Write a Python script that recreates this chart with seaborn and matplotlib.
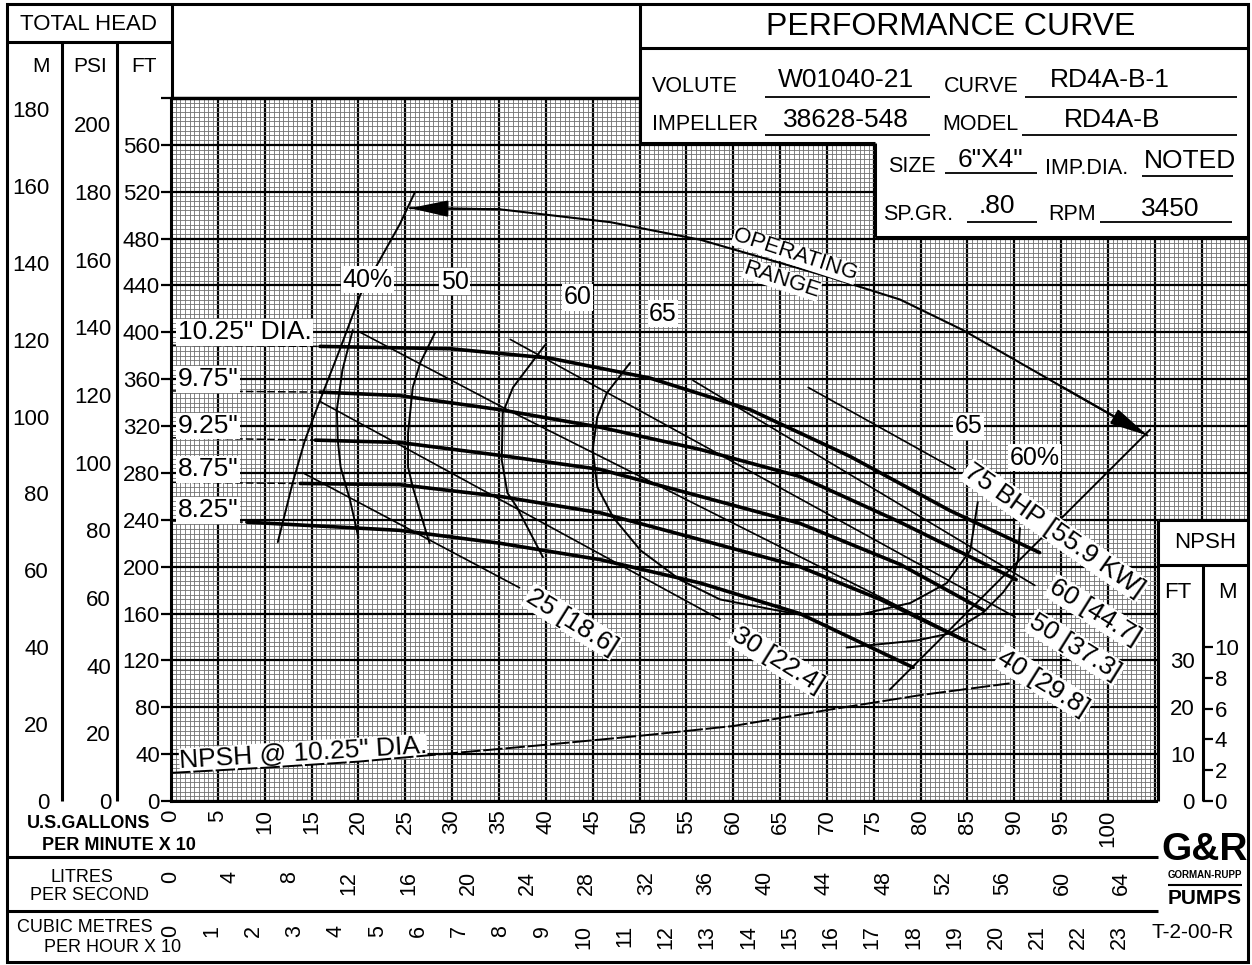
import numpy as np
import seaborn as sns
import matplotlib.pyplot as plt
from matplotlib.patches import Rectangle
from matplotlib.ticker import FuncFormatter, MultipleLocator, FixedLocator

sns.set_theme(style="white", rc={"axes.edgecolor": "black", "text.color": "black",
                                 "xtick.color": "black", "ytick.color": "black"})
plt.rcParams['font.family'] = ['Liberation Sans', 'DejaVu Sans']

# flow is US GPM x 10, head is ft
gpm_ticks = list(range(0, 101, 5))
lps_ticks = list(range(0, 65, 4))
m3h_ticks = list(range(0, 24))
ft_ticks = list(range(0, 561, 40))
m_ticks = list(range(0, 181, 20))
m_minor = list(range(10, 180, 20))
psi_ticks = list(range(0, 201, 20))
npsh_ft_ticks = [0, 10, 20, 30]
npsh_m_ticks = [0, 2, 4, 6, 8, 10]

# head / capacity curves for each impeller diameter
q_1025 = [0, 15.9, 29.8, 40.4, 51.1, 61.8, 72.5, 83.1, 92.7]
h_1025 = [389, 388, 386, 378, 361, 334, 294, 248, 212]
q_975 = [0, 15.9, 24.4, 35.1, 45.8, 56.5, 67.1, 77.8, 90.2]
h_975 = [350, 349, 346, 334, 319, 300, 277, 238, 189]
q_925 = [0, 15.4, 24.4, 35.1, 45.8, 56.5, 67.1, 77.8, 86.7]
h_925 = [310, 308, 306, 295, 283, 260, 237, 202, 163]
q_875 = [0, 13.8, 24.4, 35.1, 45.8, 56.5, 67.1, 75.7, 84.7]
h_875 = [272, 271, 270, 260, 246, 223, 200, 172, 137]
q_825 = [0, 8.1, 24.4, 35.1, 45.8, 56.5, 67.1, 79.2]
h_825 = [239, 238, 231, 220, 206, 186, 160, 114]
dia_labels = ['10.25" DIA.', '9.75"', '9.25"', '8.75"', '8.25"']
dia_label_h = [400, 360, 320, 283, 248]

# efficiency lines
q_eff40 = [11.4, 13.0, 14.3, 15.9, 18.0, 20.2, 22.3, 24.4, 26.0]
h_eff40 = [221, 272, 308, 342, 385, 432, 462, 492, 519]
q_eff45 = [19.4, 18.3, 17.7, 17.8, 18.1, 19.1, 20.0]
h_eff45 = [402, 368, 334, 308, 285, 257, 225]
q_eff50 = [28.2, 26.6, 25.8, 25.3, 25.3, 25.8, 26.6, 27.6]
h_eff50 = [400, 374, 353, 314, 285, 268, 246, 220]
q_eff60 = [39.9, 36.5, 35.4, 35.3, 35.9, 36.9, 39.7]
h_eff60 = [389, 353, 331, 291, 263, 251, 208]
q_eff65 = [49.0, 46.5, 45.5, 45.0, 45.5, 47.2, 50.1, 54.3, 58.6, 67.1, 73.5, 78.9, 82.8, 85.3, 86.1]
h_eff65 = [374, 348, 328, 300, 268, 242, 214, 189, 172, 159, 159, 169, 186, 214, 255]
q_eff60r = [90.6, 90.4, 89.8, 88.8, 86.7, 83.1, 79.6, 72.1]
h_eff60r = [233, 206, 189, 178, 161, 143, 137, 131]
q_eff60line = [76.7, 104.5]
h_eff60line = [95, 317]
eff_labels = ['40%', '50', '60', '65', '65', '60%']
eff_label_q = [21.0, 30.3, 43.4, 52.5, 85.1, 92.2]
eff_label_h = [445, 443, 430, 416, 320, 293]

# brake horsepower lines
q_bhp25 = [14.1, 37.2]
h_bhp25 = [280, 182]
q_bhp30 = [15.9, 58.6]
h_bhp30 = [341, 155]
q_bhp40 = [20.2, 35.4, 86.9]
h_bhp40 = [400, 336, 129]
q_bhp50 = [36.2, 90.1]
h_bhp50 = [394, 157]
q_bhp60 = [55.7, 92.2]
h_bhp60 = [359, 184]
q_bhp75 = [68.0, 83.7]
h_bhp75 = [353, 283]
bhp_labels = ['25 [18.6]', '30 [22.4]', '40 [29.8]', '50 [37.3]', '60 [44.7]', '75 BHP [55.9 KW]']
bhp_label_q = [42.8, 64.8, 93.1, 96.5, 98.6, 94.3]
bhp_label_h = [153, 120, 101, 131, 161, 231]

# operating range arrow
q_oper = [25.5, 35.1, 46.9, 56.5, 70.3, 77.8, 84.5, 95.2, 104.2]
h_oper = [506, 505, 494, 479, 447, 428, 402, 353, 312]

# NPSH required (ft) at 10.25" dia
q_npsh = [0, 10, 20, 30, 40, 50, 60, 70, 80, 89.5]
npsh_ft = [6.0, 7.1, 8.4, 10.2, 12.0, 13.9, 16.0, 19.4, 22.6, 25.1]

FT_PER_M = 3.28084
SG = 0.80
LPS_PER_UNIT = 0.630902   # one unit = 10 US GPM
M3H10_PER_UNIT = 0.2271247

W, H = 1252, 965
XMAX = (1248 - 171) / 9.37
YMAX = 600


def box(x0, y0, x1, y1):
    return [x0 / W, 1 - y1 / H, (x1 - x0) / W, (y1 - y0) / H]


def line(ax, q, h, lw, ls='-'):
    sns.lineplot(x=q, y=h, ax=ax, color='black', lw=lw, linestyle=ls,
                 sort=False, estimator=None, legend=False)


fig = plt.figure(figsize=(W / 100, H / 100), dpi=100)

ax = fig.add_axes(box(171, 98, 1248, 801))
ax.set_xlim(0, XMAX)
ax.set_ylim(0, YMAX)
ax.xaxis.set_major_locator(MultipleLocator(5))
ax.xaxis.set_minor_locator(MultipleLocator(0.5))
ax.yaxis.set_major_locator(FixedLocator(list(range(0, 601, 40))))
ax.yaxis.set_minor_locator(MultipleLocator(4))
ax.xaxis.set_major_formatter(FuncFormatter(lambda v, p: f'{v:.0f}' if round(v) in gpm_ticks else ''))
ax.yaxis.set_major_formatter(FuncFormatter(lambda v, p: f'{v:.0f}' if round(v) in ft_ticks else ''))
ax.grid(which='major', color='black', lw=1.6)
ax.grid(which='minor', color='#707070', lw=0.6)
ax.set_axisbelow(True)
ax.tick_params(axis='x', which='both', length=0, pad=6, labelsize=16, labelrotation=90)
ax.tick_params(axis='y', which='major', length=7.5, width=1.6, direction='out', pad=0.5, labelsize=16)
ax.tick_params(axis='y', which='minor', length=0)
for s in ['top', 'right']:
    ax.spines[s].set_visible(False)
for s in ['left', 'bottom']:
    ax.spines[s].set_linewidth(2.2)
ax.axhline(YMAX, color='black', lw=2.5, clip_on=False)
ax.yaxis.get_major_ticks()[-1].tick1line.set_visible(False)
ax.set_xlabel('')
ax.set_ylabel('')

# head curves
for q, h in [(q_1025, h_1025), (q_975, h_975), (q_925, h_925), (q_875, h_875), (q_825, h_825)]:
    line(ax, q[:2], h[:2], 1.1, (0, (5, 2)))
    line(ax, q[1:], h[1:], 2.6)

lab = dict(facecolor='white', edgecolor='none', pad=1)
for t, h in zip(dia_labels, dia_label_h):
    ax.text(0.7, h, t, fontsize=19, ha='left', va='center', bbox=lab, zorder=5)

# efficiency
for q, h in [(q_eff40, h_eff40), (q_eff45, h_eff45), (q_eff50, h_eff50), (q_eff60, h_eff60),
             (q_eff65, h_eff65), (q_eff60r, h_eff60r), (q_eff60line, h_eff60line)]:
    line(ax, q, h, 1.4)
for t, q, h in zip(eff_labels, eff_label_q, eff_label_h):
    ax.text(q, h, t, fontsize=18, ha='center', va='center', bbox=lab, zorder=5)

# bhp
for q, h in [(q_bhp25, h_bhp25), (q_bhp30, h_bhp30), (q_bhp40, h_bhp40),
             (q_bhp50, h_bhp50), (q_bhp60, h_bhp60), (q_bhp75, h_bhp75)]:
    line(ax, q, h, 1.2)
for t, q, h in zip(bhp_labels, bhp_label_q, bhp_label_h):
    rot = -35 if 'BHP' in t else -32
    ax.text(q, h, t, fontsize=19, ha='center', va='center', rotation=rot,
            rotation_mode='anchor', bbox=lab, zorder=5)

# operating range
line(ax, q_oper, h_oper, 1.5)
arrow = dict(arrowstyle='-|>,head_length=1.3,head_width=0.28', color='black', lw=1.5,
             mutation_scale=18, shrinkA=0, shrinkB=0)
ax.annotate('', xy=(q_oper[0], h_oper[0]), xytext=(q_oper[1], h_oper[1]), arrowprops=arrow)
ax.annotate('', xy=(q_oper[-1], h_oper[-1]), xytext=(q_oper[-2], h_oper[-2]), arrowprops=arrow)
ax.text(66.6, 466, 'OPERATING', fontsize=16, ha='center', va='center', rotation=-18,
        rotation_mode='anchor', bbox=dict(facecolor='white', edgecolor='none', pad=0), zorder=5)
ax.text(65.2, 445, 'RANGE', fontsize=16, ha='center', va='center', rotation=-18,
        rotation_mode='anchor', bbox=dict(facecolor='white', edgecolor='none', pad=0), zorder=5)

# NPSH on its own scale (10 ft NPSH = 40 ft head)
axn = ax.twinx()
axn.set_ylim(0, YMAX / 4)
line(axn, q_npsh, npsh_ft, 1.4, (0, (10, 1.5)))
axn.axis('off')
ax.text(14.1, 41, 'NPSH @ 10.25" DIA.', fontsize=19, ha='center', va='center', rotation=3.5,
        rotation_mode='anchor', bbox=dict(facecolor='white', edgecolor='none', pad=0), zorder=5)

# head scales in M and PSI
axm = fig.add_axes(box(61.7, 98, 61.8, 801), zorder=12)
axm.set_ylim(0, YMAX / FT_PER_M)
axm.set_yticks(m_ticks)
axm.set_yticks(m_minor, minor=True)
axm.tick_params(axis='y', which='both', length=8.6, width=1.6, direction='out', pad=0.5, labelsize=16)
axp = fig.add_axes(box(116.7, 98, 116.8, 801), zorder=12)
axp.set_ylim(0, YMAX * SG / 2.31)
axp.set_yticks(psi_ticks)
axp.tick_params(axis='y', length=3.6, width=1.6, direction='out', pad=0.5, labelsize=16)

# flow scales below
axl = fig.add_axes(box(171, 856, 1248, 857), zorder=12)
axl.set_xlim(0, XMAX * LPS_PER_UNIT)
axl.set_xticks(lps_ticks)
axc = fig.add_axes(box(171, 910, 1248, 911), zorder=12)
axc.set_xlim(0, XMAX * M3H10_PER_UNIT)
axc.set_xticks(m3h_ticks)
for a in [axl, axc]:
    a.tick_params(axis='x', length=9, width=1.6, direction='out', pad=1, labelsize=15.5, labelrotation=90)

# NPSH scales
axnf = fig.add_axes(box(1203.3, 98, 1203.4, 801), zorder=12)
axnf.set_ylim(0, YMAX / 4)
axnf.set_yticks(npsh_ft_ticks)
axnf.tick_params(axis='y', length=0, pad=6, labelsize=16)
axnm = fig.add_axes(box(1203.3, 98, 1203.4, 801), zorder=12)
axnm.set_ylim(0, YMAX / 4 / FT_PER_M)
axnm.set_yticks(npsh_m_ticks)
axnm.yaxis.tick_right()
axnm.tick_params(axis='y', length=7, width=1.6, direction='out', pad=1, labelsize=16)

for a in [axm, axp, axl, axc, axnf, axnm]:
    a.patch.set_alpha(0)
    for s in a.spines.values():
        s.set_visible(False)
    if a in (axl, axc):
        a.set_yticks([])
    else:
        a.set_xticks([])

# frame, title block and captions
ov = fig.add_axes([0, 0, 1, 1], zorder=10)
ov.set_xlim(0, W)
ov.set_ylim(H, 0)
ov.axis('off')
ov.patch.set_alpha(0)
white = dict(facecolor='white', edgecolor='none')
ov.add_patch(Rectangle((640, 0), 612, 143, **white))
ov.add_patch(Rectangle((875, 143), 377, 94, **white))
ov.add_patch(Rectangle((1158, 520), 94, 290, **white))
ov.add_patch(Rectangle((7, 4), 1241, 958, fill=False, edgecolor='black', lw=2.2))


def seg(x0, y0, x1, y1, lw=2.2):
    ov.plot([x0, x1], [y0, y1], color='black', lw=lw, solid_capstyle='butt')


seg(640, 4, 640, 143)
seg(640, 48, 1248, 48)
seg(640, 143, 875, 143)
seg(875, 143, 875, 237)
seg(875, 237, 1248, 237)
seg(7, 42, 171.5, 42)
seg(61.7, 42, 61.7, 801)
seg(116.7, 42, 116.7, 801)
seg(171.5, 4, 171.5, 98)
seg(7, 857, 1158, 857)
seg(7, 911, 1158, 911)
seg(1158, 520, 1158, 801)
seg(1158, 520, 1248, 520)
seg(1158, 565, 1248, 565)
seg(1203.3, 565, 1203.3, 801)

ov.text(951, 27, 'PERFORMANCE CURVE', fontsize=23, ha='center', va='center')
fields = [('VOLUTE', 652, 86, 'W01040-21', 846, 80, 765, 930, 97),
          ('CURVE', 944, 86, 'RD4A-B-1', 1110, 80, 1025, 1237, 97),
          ('IMPELLER', 652, 124, '38628-548', 846, 120, 765, 930, 135),
          ('MODEL', 942, 125, 'RD4A-B', 1112, 120, 1022, 1237, 135),
          ('SIZE', 888, 166, '6"X4"', 990, 160, 945, 1037, 173),
          ('IMP.DIA.', 1045, 168, 'NOTED', 1190, 161, 1142, 1233, 176),
          ('SP.GR.', 883, 214, '.80', 997, 206, 967, 1037, 222),
          ('RPM', 1048, 215, '3450', 1170, 209, 1100, 1232, 222)]
for name, nx, ny, val, vx, vy, u0, u1, uy in fields:
    ov.text(nx, ny, name, fontsize=15.5, ha='left', va='center')
    ov.text(vx, vy, val, fontsize=19, ha='center', va='center')
    seg(u0, uy, u1, uy, lw=1.3)

ov.text(89, 24, 'TOTAL HEAD', fontsize=16, ha='center', va='center')
ov.text(41, 66, 'M', fontsize=15, ha='center', va='center')
ov.text(90, 66, 'PSI', fontsize=15, ha='center', va='center')
ov.text(144, 66, 'FT', fontsize=15, ha='center', va='center')
ov.text(89, 824, 'U.S.GALLONS', fontsize=13, ha='center', va='center', fontweight='bold')
ov.text(119, 845, 'PER MINUTE X 10', fontsize=13, ha='center', va='center', fontweight='bold')
ov.text(82, 878, 'LITRES', fontsize=13, ha='center', va='center')
ov.text(90, 896, 'PER SECOND', fontsize=13, ha='center', va='center')
ov.text(85, 928, 'CUBIC METRES', fontsize=13, ha='center', va='center')
ov.text(113, 947, 'PER HOUR X 10', fontsize=13, ha='center', va='center')
ov.text(1205, 543, 'NPSH', fontsize=16, ha='center', va='center')
ov.text(1178, 592, 'FT', fontsize=16, ha='center', va='center')
ov.text(1227, 592, 'M', fontsize=16, ha='center', va='center')
ov.text(1205, 850, 'G&R', fontsize=28, ha='center', va='center', fontweight='bold')
ov.text(1205, 875, 'GORMAN-RUPP', fontsize=7, ha='center', va='center', fontweight='bold')
seg(1168, 885, 1242, 885, lw=1.5)
ov.text(1205, 898, 'PUMPS', fontsize=15, ha='center', va='center', fontweight='bold')
ov.text(1193, 933, 'T-2-00-R', fontsize=15, ha='center', va='center')

fig.savefig('out.png', dpi=100)
